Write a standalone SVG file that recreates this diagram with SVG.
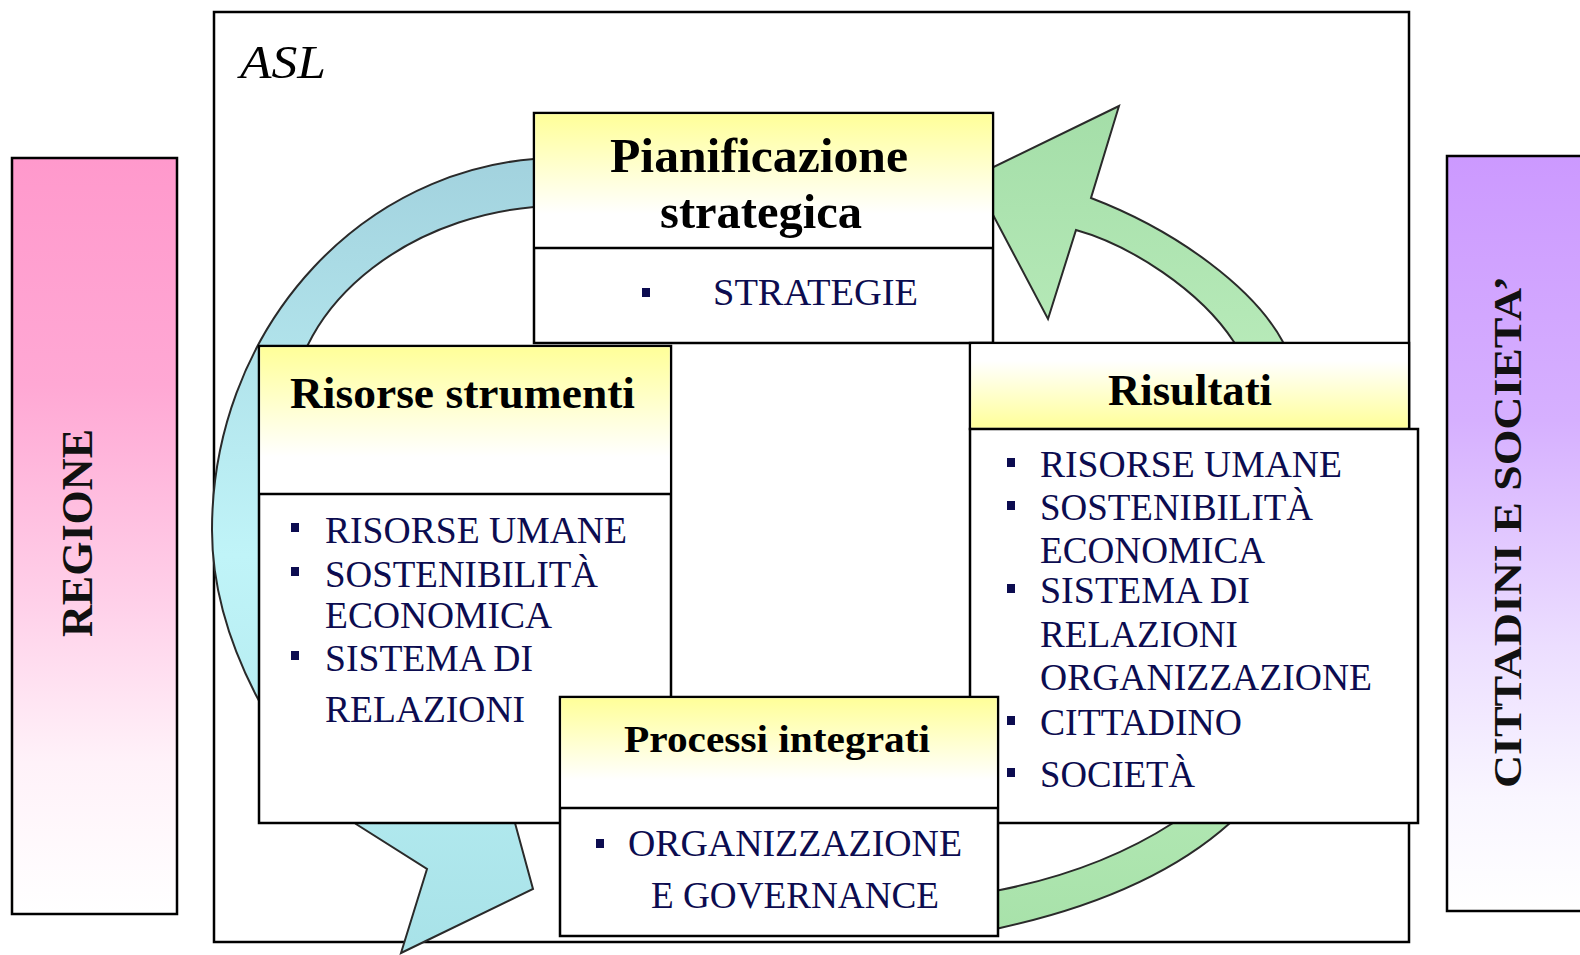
<svg xmlns="http://www.w3.org/2000/svg" width="1580" height="955" viewBox="0 0 1580 955">
<defs>
<linearGradient id="pink" x1="0" y1="0" x2="0" y2="1">
<stop offset="0" stop-color="#ff99cc"/><stop offset="0.3" stop-color="#ffa8d4"/><stop offset="0.6" stop-color="#ffd2ea"/><stop offset="0.8" stop-color="#fff2f9"/><stop offset="1" stop-color="#ffffff"/>
</linearGradient>
<linearGradient id="purple" x1="0" y1="0" x2="0" y2="1">
<stop offset="0" stop-color="#cc99ff"/><stop offset="0.35" stop-color="#d6b0ff"/><stop offset="0.65" stop-color="#ecdeff"/><stop offset="0.85" stop-color="#f9f6ff"/><stop offset="1" stop-color="#ffffff"/>
</linearGradient>
<linearGradient id="yTop" x1="0" y1="0" x2="0" y2="1">
<stop offset="0" stop-color="#ffff99"/><stop offset="0.75" stop-color="#ffffff"/>
</linearGradient>
<linearGradient id="yBot" x1="0" y1="0" x2="0" y2="1">
<stop offset="0.2" stop-color="#ffffff"/><stop offset="1" stop-color="#ffff99"/>
</linearGradient>
<linearGradient id="cyan" x1="0" y1="0" x2="0" y2="1">
<stop offset="0" stop-color="#a2d2de"/><stop offset="0.5" stop-color="#c0f4f8"/><stop offset="1" stop-color="#a8e2e8"/>
</linearGradient>
<linearGradient id="green" x1="0" y1="0" x2="0" y2="1">
<stop offset="0" stop-color="#a4dea8"/><stop offset="0.5" stop-color="#c4f2c4"/><stop offset="1" stop-color="#a8e2aa"/>
</linearGradient>
</defs>
<style>
.box{stroke:#000;stroke-width:2.5;fill:#fff}
.line{stroke:#000;stroke-width:2.5}
.arrow{stroke:#2a2a2a;stroke-width:2;stroke-linejoin:miter}
.title{font-family:"Liberation Serif","Times New Roman",serif;font-weight:bold;fill:#000}
.item{font-family:"Liberation Serif","Times New Roman",serif;font-size:37px;fill:#0c0c50}
.side{font-family:"Liberation Serif","Times New Roman",serif;font-weight:bold;fill:#111}
.bul{fill:#0c0c50}
</style>
<rect width="1580" height="955" fill="#fff"/>

<g id="regione">
<rect x="12" y="158" width="165" height="756" fill="url(#pink)" stroke="#000" stroke-width="2.5"/>
<text class="side" font-size="44" transform="translate(92,533) rotate(-90)" text-anchor="middle" textLength="208" lengthAdjust="spacingAndGlyphs">REGIONE</text>
</g>

<g id="cittadini">
<rect x="1447" y="156" width="140" height="755" fill="url(#purple)" stroke="#000" stroke-width="2.5"/>
<text class="side" font-size="40" transform="translate(1521,532) rotate(-90)" text-anchor="middle" textLength="512" lengthAdjust="spacingAndGlyphs">CITTADINI E SOCIETA’</text>
</g>

<g id="asl">
<rect class="box" x="214" y="12" width="1195" height="930"/>
<text x="240" y="78" font-family="Liberation Serif, Times New Roman, serif" font-style="italic" font-size="46" fill="#000" textLength="86" lengthAdjust="spacingAndGlyphs">ASL</text>
</g>

<g id="connectors">
<path class="arrow" fill="url(#cyan)" d="M560,206 L560,158 A348,372 0 0 0 212,530 C212,640 280,760 356,824 L427,869 L401,953 L533,889 L515,823 L505,800 L290,420 C290,300 420,206 560,206 Z"/>
<path class="arrow" fill="url(#green)" d="M990,930 L1000,928 Q1150,895 1230,823 C1330,730 1360,450 1283,342 C1255,290 1180,232 1091,198 L1119,106 L973,177 L1048,319 L1076,230 C1130,245 1200,290 1234,342 C1300,450 1270,730 1173,823 Q1100,870 1000,890 L990,892 Z"/>
</g>

<g id="pianificazione">
<rect class="box" x="534" y="113" width="459" height="230"/>
<rect x="535.25" y="114.25" width="456.5" height="133" fill="url(#yTop)"/>
<line class="line" x1="534" y1="248" x2="993" y2="248"/>
<text class="title" font-size="48" x="759" y="172" text-anchor="middle" textLength="298" lengthAdjust="spacingAndGlyphs">Pianificazione</text>
<text class="title" font-size="48" x="761" y="228" text-anchor="middle" textLength="202" lengthAdjust="spacingAndGlyphs">strategica</text>
<rect class="bul" x="642" y="288" width="8" height="9"/>
<text class="item" x="713" y="305" textLength="205" lengthAdjust="spacingAndGlyphs">STRATEGIE</text>
</g>

<g id="risorse">
<rect class="box" x="259" y="346" width="412" height="477"/>
<rect x="260.25" y="347.25" width="409.5" height="146" fill="url(#yTop)"/>
<line class="line" x1="259" y1="494" x2="671" y2="494"/>
<text class="title" font-size="44" x="290" y="408" textLength="345" lengthAdjust="spacingAndGlyphs">Risorse strumenti</text>
<rect class="bul" x="291" y="523" width="8" height="9"/>
<text class="item" x="325" y="543" textLength="302" lengthAdjust="spacingAndGlyphs">RISORSE UMANE</text>
<rect class="bul" x="291" y="567" width="8" height="9"/>
<text class="item" x="325" y="587" textLength="273" lengthAdjust="spacingAndGlyphs">SOSTENIBILITÀ</text>
<text class="item" x="325" y="628" textLength="227" lengthAdjust="spacingAndGlyphs">ECONOMICA</text>
<rect class="bul" x="291" y="651" width="8" height="9"/>
<text class="item" x="325" y="671" textLength="208" lengthAdjust="spacingAndGlyphs">SISTEMA DI</text>
<text class="item" x="325" y="722" textLength="200" lengthAdjust="spacingAndGlyphs">RELAZIONI</text>
</g>

<g id="risultati">
<rect class="box" x="970" y="343" width="439" height="86"/>
<rect x="971.25" y="344.25" width="436.5" height="83.5" fill="url(#yBot)"/>
<rect class="box" x="970" y="429" width="448" height="394"/>
<text class="title" font-size="44" x="1190" y="405" text-anchor="middle" textLength="164" lengthAdjust="spacingAndGlyphs">Risultati</text>
<rect class="bul" x="1007" y="458" width="8" height="9"/>
<text class="item" x="1040" y="477" textLength="302" lengthAdjust="spacingAndGlyphs">RISORSE UMANE</text>
<rect class="bul" x="1007" y="501" width="8" height="9"/>
<text class="item" x="1040" y="520" textLength="273" lengthAdjust="spacingAndGlyphs">SOSTENIBILITÀ</text>
<text class="item" x="1040" y="563" textLength="225" lengthAdjust="spacingAndGlyphs">ECONOMICA</text>
<rect class="bul" x="1007" y="584" width="8" height="9"/>
<text class="item" x="1040" y="603" textLength="210" lengthAdjust="spacingAndGlyphs">SISTEMA DI</text>
<text class="item" x="1040" y="647" textLength="198" lengthAdjust="spacingAndGlyphs">RELAZIONI</text>
<text class="item" x="1040" y="690" textLength="332" lengthAdjust="spacingAndGlyphs">ORGANIZZAZIONE</text>
<rect class="bul" x="1007" y="716" width="8" height="9"/>
<text class="item" x="1040" y="735" textLength="202" lengthAdjust="spacingAndGlyphs">CITTADINO</text>
<rect class="bul" x="1007" y="768" width="8" height="9"/>
<text class="item" x="1040" y="787" textLength="155" lengthAdjust="spacingAndGlyphs">SOCIETÀ</text>
</g>

<g id="processi">
<rect class="box" x="560" y="697" width="438" height="239"/>
<rect x="561.25" y="698.25" width="435.5" height="109" fill="url(#yTop)"/>
<line class="line" x1="560" y1="808" x2="998" y2="808"/>
<text class="title" font-size="38" x="777" y="752" text-anchor="middle" textLength="306" lengthAdjust="spacingAndGlyphs">Processi integrati</text>
<rect class="bul" x="596" y="839" width="8" height="9"/>
<text class="item" x="628" y="856" textLength="334" lengthAdjust="spacingAndGlyphs">ORGANIZZAZIONE</text>
<text class="item" x="651" y="908" textLength="288" lengthAdjust="spacingAndGlyphs">E GOVERNANCE</text>
</g>
</svg>
